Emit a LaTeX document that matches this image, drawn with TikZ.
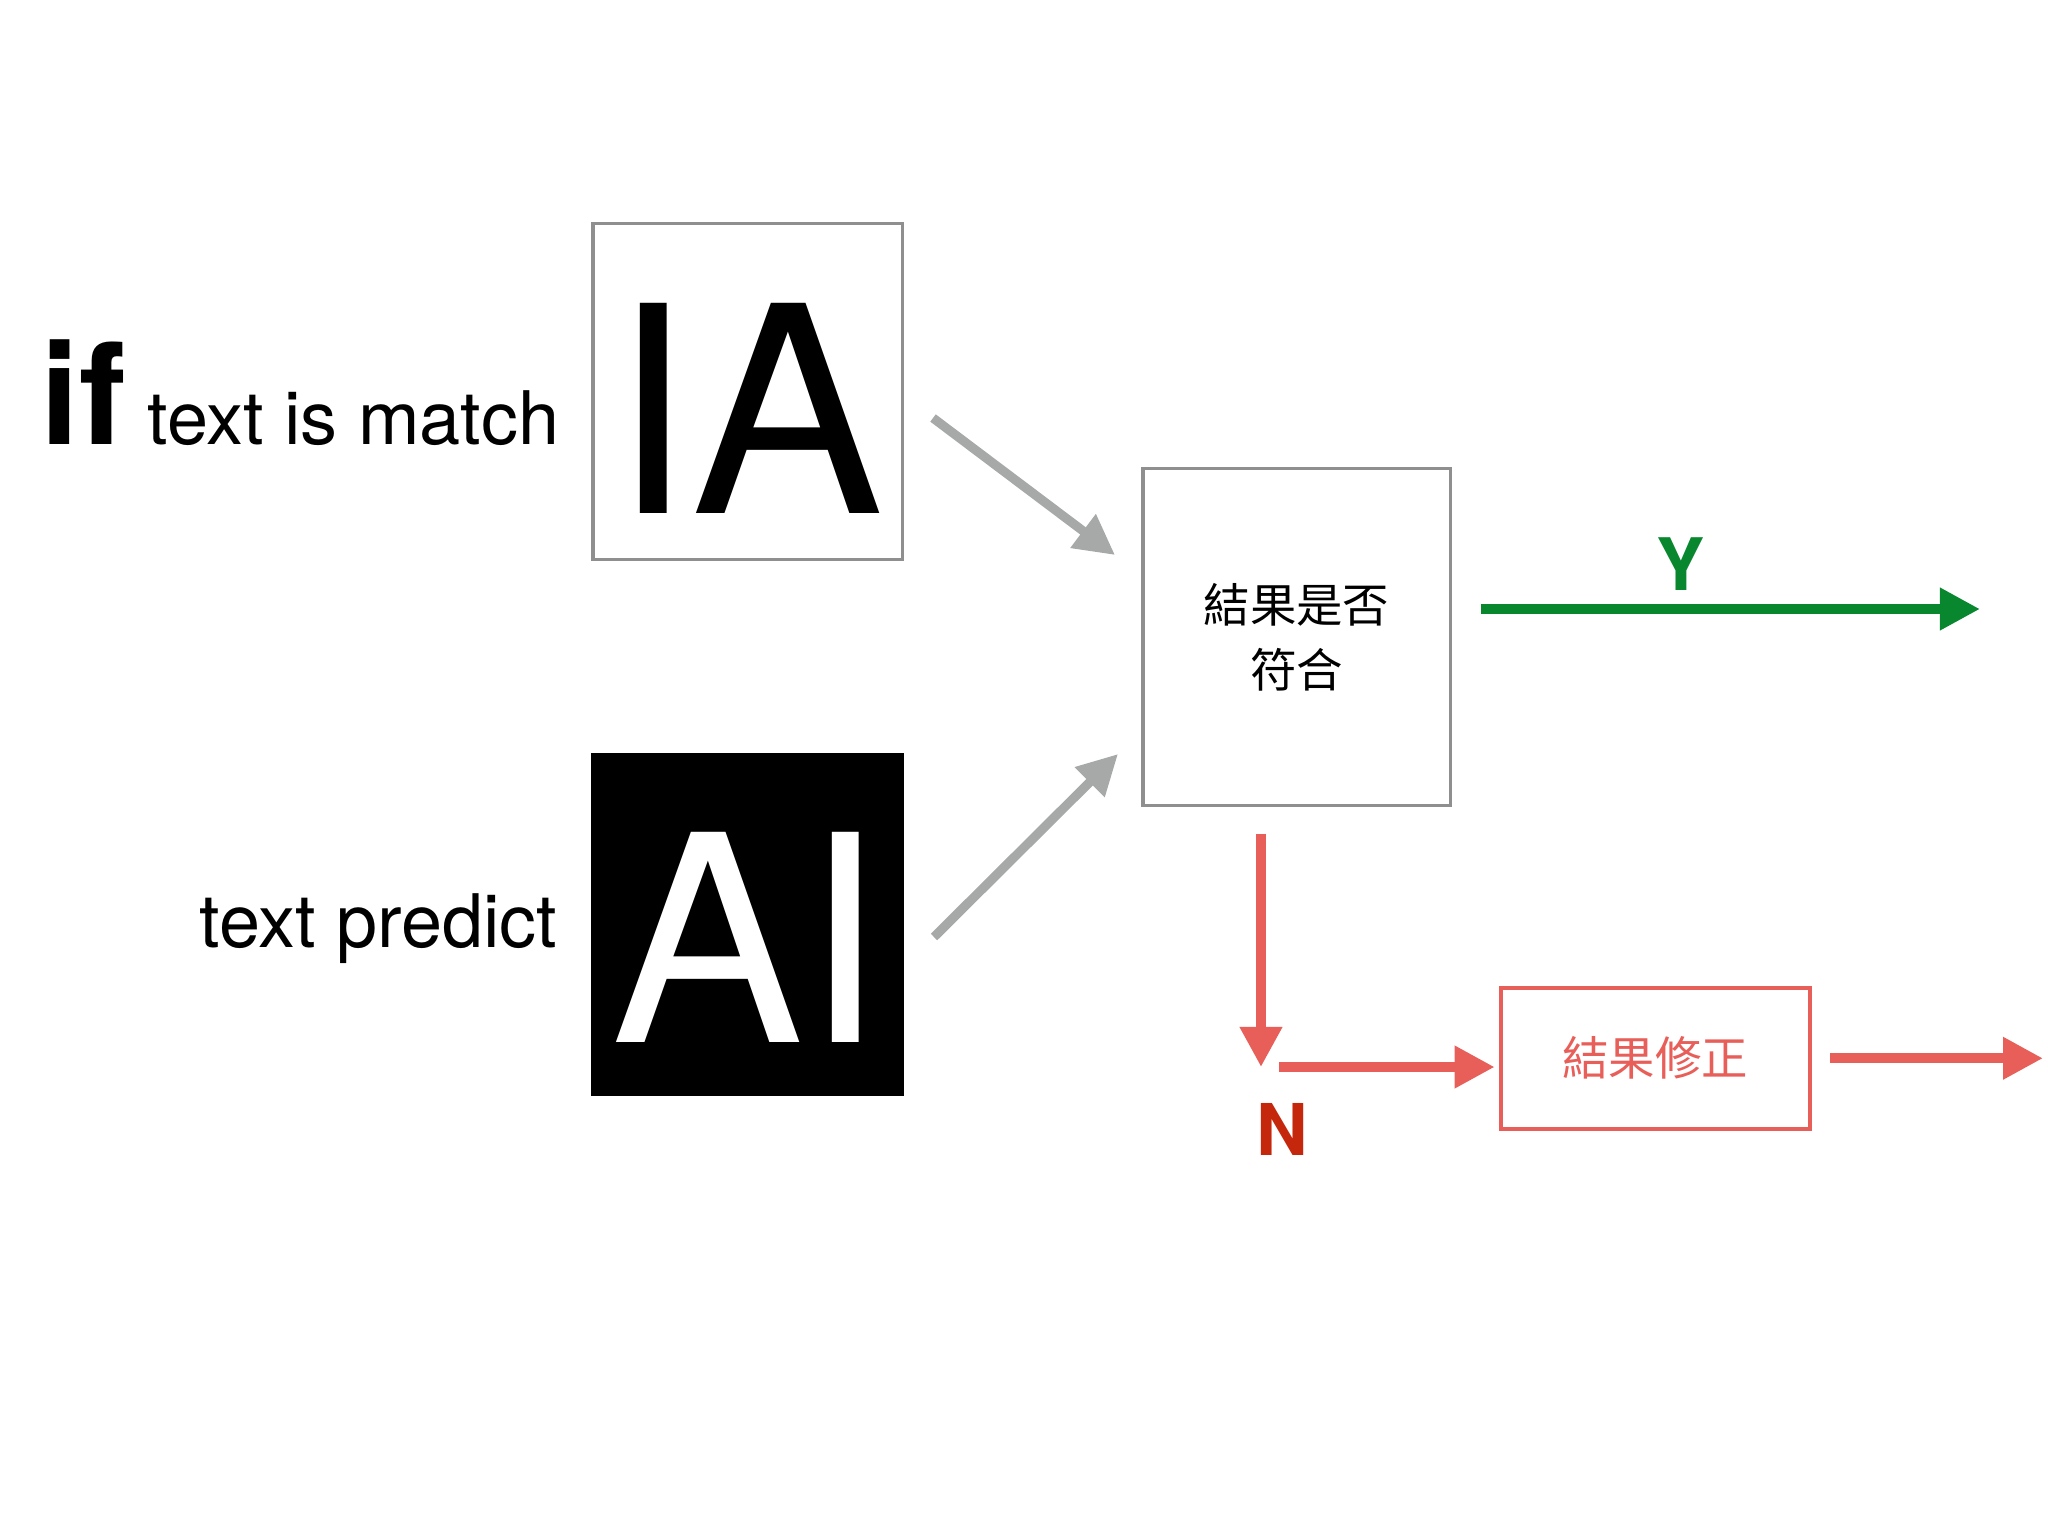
\documentclass[tikz,border=0pt]{standalone}
\usepackage{fontspec}
\setmainfont{TeX Gyre Heros}
\newfontfamily\cjk{Noto Sans CJK TC}
\usetikzlibrary{positioning}
\usetikzlibrary{arrows.meta}
\definecolor{boxgray}{HTML}{8F8F8F}
\definecolor{arrowgray}{HTML}{A7A9A9}
\definecolor{yesgreen}{HTML}{08872E}
\definecolor{nored}{HTML}{E85F5A}
\definecolor{ndark}{HTML}{C4270C}
\newcommand{\lowered}[2]{\raisebox{-#1}[\height][0pt]{#2}}
\tikzset{x=0.01cm, y=-0.01cm,
      block/.style={draw=boxgray, line width=0.9pt, inner sep=0pt,
      minimum width=3.09cm, minimum height=3.35cm},
      glyphs/.style={font=\fontsize{82}{82}\selectfont},
      caption/.style={font=\fontsize{21}{24}\selectfont, inner sep=0pt},
      zh/.style={font=\cjk\fontsize{13.2}{18.5}\selectfont, align=center},
      tip/.style={-{Triangle[length=0.4cm,width=0.4cm]}},
      gray flow/.style={tip, draw=arrowgray, line width=2.6pt},
      yes flow/.style={tip, draw=yesgreen, line width=2.8pt},
      no flow/.style={tip, draw=nored, line width=2.8pt}}

\begin{document}
\begin{tikzpicture}
          \useasboundingbox (0,0) rectangle (2048,1536);

          \node[block, glyphs] (ia) at (747.5,391.5) {\lowered{0.17cm}{IA}};
          \node[block, glyphs, fill=black, draw=black, text=white,
                minimum height=3.40cm, below=1.92cm of ia] (ai) {\lowered{0.13cm}{AI}};
          \node[block, zh, minimum width=3.07cm, minimum height=3.36cm] (check) at (1296.5,637) {結果是否\\符合};
          \node[block, zh, draw=nored, line width=1.1pt, text=nored,
                minimum height=1.41cm, below right=1.79cm and 0.47cm of check.south east] (fix) {結果修正};

          \node[caption, font=\bfseries\fontsize{40}{40}\selectfont, anchor=base west] (if) at (40,444) {if};
          \node[caption, anchor=base west] (match) at (147,444) {text is match};
          \node[caption, anchor=base east] (predict) at (558,947) {text predict};

          \coordinate (ia-out) at (933,418);
          \coordinate (check-a) at (1115,555);
          \coordinate (ai-out) at (934,937);
          \coordinate (check-b) at (1118,754);
          \coordinate (yes) at (1980,609);
          \coordinate (turn) at (1261,1067);
          \coordinate (out) at (2043,1057);

          \draw[gray flow] (ia-out) -- (check-a);
          \draw[gray flow] (ai-out) -- (check-b);

          \draw[yes flow, shorten <=0.29cm] (check.east |- yes) -- (yes);
          \node[caption, font=\bfseries\fontsize{20.6}{24}\selectfont, text=yesgreen, anchor=base] (y) at (1681,590) {Y};

          \draw[no flow, shorten <=0.27cm] (check.south -| turn) -- (turn);
          \draw[no flow, shorten <=0.18cm, shorten >=0.04cm] (turn) -- (turn -| fix.west);
          \draw[no flow, shorten <=0.18cm] (fix.east) -- (fix.east -| out);
          \node[caption, font=\bfseries\fontsize{20.3}{24}\selectfont, text=ndark, anchor=base] (n) at (1282,1155) {N};
       \end{tikzpicture}
\end{document}
